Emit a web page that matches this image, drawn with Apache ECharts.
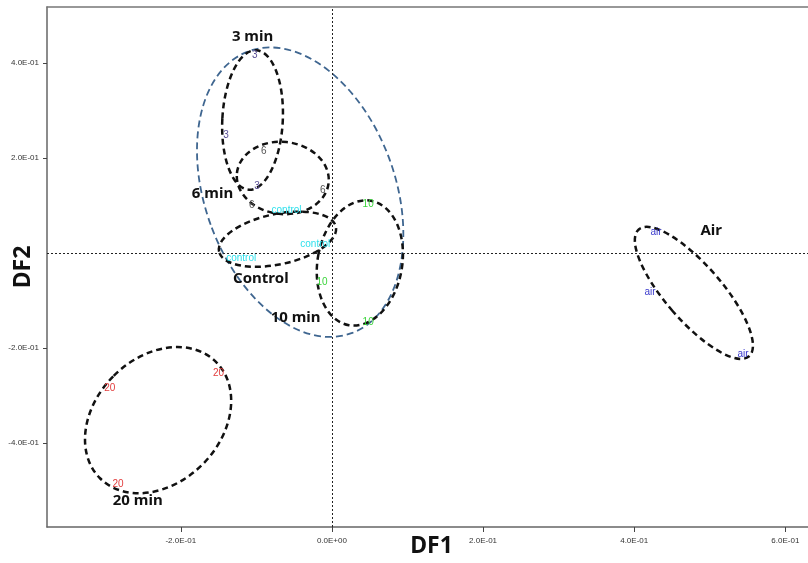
<!DOCTYPE html>
<html>
<head>
<meta charset="utf-8">
<script src="https://cdn.jsdelivr.net/npm/echarts@6/dist/echarts.min.js"></script>
<style>
  html, body { margin: 0; padding: 0; background: #fff; }
  #main { width: 808px; height: 563px; }
</style>
</head>
<body>
<div id="main"></div>
<script>
// discriminant scores, one array per group: [DF1, DF2]
var group3 = [[-0.102, 0.417], [-0.140, 0.248], [-0.099, 0.141]];
var group6 = [[-0.090, 0.215], [-0.012, 0.133], [-0.106, 0.101]];
var groupControl = [[-0.060, 0.089], [-0.022, 0.019], [-0.120, -0.012]];
var group10 = [[0.048, 0.103], [-0.013, -0.061], [0.048, -0.145]];
var groupAir = [[0.429, 0.044], [0.421, -0.082], [0.544, -0.213]];
var group20 = [[-0.294, -0.284], [-0.150, -0.253], [-0.283, -0.486]];

// group ellipses: [centre DF1, centre DF2, half width (DF1 units), half height (DF2 units), rotation deg]
var ellipses = [
  [-0.105, 0.280, 0.040, 0.147, -3],
  [-0.065, 0.158, 0.061, 0.076, -6],
  [-0.072, 0.029, 0.079, 0.053, 12],
  [0.037, -0.021, 0.056, 0.133, -10],
  [0.479, -0.084, 0.037, 0.177, 41],
  [-0.230, -0.352, 0.083, 0.173, -45]
];
var outerEllipse = [[-0.042, 0.128, 0.126, 0.316, 20]];

// group names and where they are written
var groupNames = ['3 min', '6 min', 'Control', '10 min', 'Air', '20 min'];
var namePos = [[-0.105, 0.455], [-0.158, 0.124], [-0.094, -0.055], [-0.048, -0.137], [0.502, 0.046], [-0.257, -0.522]];

var xTicks = [-0.2, 0, 0.2, 0.4, 0.6];
var yTicks = [-0.4, -0.2, 0.2, 0.4];

function sci(v) {
  var s = Number(v).toExponential(1).toUpperCase();
  var parts = s.split('E');
  var e = parseInt(parts[1], 10);
  var sign = e < 0 ? '-' : '+';
  var digits = String(Math.abs(e));
  if (digits.length < 2) digits = '0' + digits;
  return parts[0] + 'E' + sign + digits;
}

function pointSeries(name, data, text, color) {
  return {
    name: name,
    type: 'scatter',
    data: data,
    symbolSize: 0,
    silent: true,
    z: 4,
    itemStyle: { opacity: 1 },
    label: {
      show: true,
      position: 'inside',
      formatter: text,
      color: color,
      fontSize: 10,
      fontFamily: 'Liberation Sans'
    }
  };
}

function ellipseSeries(data, color, width, dash) {
  return {
    type: 'custom',
    data: data,
    silent: true,
    z: 3,
    renderItem: function (params, api) {
      var c = api.coord([api.value(0), api.value(1)]);
      var rx = api.size([api.value(2), 0])[0];
      var ry = api.size([0, api.value(3)])[1];
      return {
        type: 'ellipse',
        x: c[0],
        y: c[1],
        rotation: api.value(4) * Math.PI / 180,
        shape: { cx: 0, cy: 0, rx: rx, ry: ry },
        style: { fill: null, stroke: color, lineWidth: width, lineDash: dash }
      };
    }
  };
}

var myChart = echarts.init(document.getElementById('main'));

var tickFont = 'Liberation Sans';

var option = {
  animation: false,
  backgroundColor: '#fff',
  grid: { left: 47, right: 0, top: 7, bottom: 36, containLabel: false, outerBoundsMode: 'none' },
  xAxis: [{
    type: 'value',
    min: -0.377,
    max: 0.63,
    name: 'DF1',
    nameLocation: 'middle',
    nameGap: 8,
    nameMoveOverlap: false,
    nameTextStyle: { fontSize: 23, fontWeight: 'bold', color: '#111', fontFamily: 'Noto Sans', padding: [0, 0, 0, 8] },
    axisLine: { show: true, onZero: false, lineStyle: { color: '#666', width: 1.5 } },
    axisTick: { show: true, customValues: xTicks, length: 5, lineStyle: { color: '#444' } },
    axisLabel: {
      customValues: xTicks,
      formatter: sci,
      fontSize: 8,
      color: '#333',
      margin: 10,
      fontFamily: tickFont
    },
    splitLine: { show: false }
  }, {
    type: 'value',
    position: 'top',
    min: -0.377,
    max: 0.63,
    axisLine: { show: true, onZero: false, lineStyle: { color: '#777', width: 1.5 } },
    axisTick: { show: false },
    axisLabel: { show: false },
    splitLine: { show: false }
  }],
  yAxis: {
    type: 'value',
    min: -0.577,
    max: 0.518,
    name: 'DF2',
    nameLocation: 'middle',
    nameGap: 12,
    nameMoveOverlap: false,
    nameTextStyle: { fontSize: 23, fontWeight: 'bold', color: '#111', fontFamily: 'Noto Sans' },
    axisLine: { show: true, onZero: false, lineStyle: { color: '#666', width: 1.5 } },
    axisTick: { show: true, customValues: yTicks, length: 4, lineStyle: { color: '#444' } },
    axisLabel: {
      customValues: yTicks,
      formatter: sci,
      fontSize: 8,
      color: '#333',
      margin: 8,
      fontFamily: tickFont
    },
    splitLine: { show: false }
  },
  series: [
    {
      type: 'scatter',
      data: [],
      markLine: {
        silent: true,
        symbol: 'none',
        label: { show: false },
        lineStyle: { color: '#222', type: [2, 2], width: 1 },
        data: [{ xAxis: 0 }, { yAxis: 0 }]
      }
    },
    ellipseSeries(outerEllipse, '#3f6690', 1.8, [7, 4]),
    ellipseSeries(ellipses, '#111', 2.5, [6, 4]),
    pointSeries('3', group3, '3', '#5a4f96'),
    pointSeries('6', group6, '6', '#555555'),
    pointSeries('control', groupControl, 'control', '#2fe0ec'),
    pointSeries('10', group10, '10', '#3ad43a'),
    pointSeries('air', groupAir, 'air', '#3a3acc'),
    pointSeries('20', group20, '20', '#e23c3c'),
    {
      type: 'scatter',
      data: namePos.map(function (p, i) { return [p[0], p[1], groupNames[i]]; }),
      symbolSize: 0,
      silent: true,
      z: 5,
      itemStyle: { opacity: 1 },
      label: {
        show: true,
        position: 'inside',
        formatter: function (p) { return p.value[2]; },
        fontSize: 15,
        fontWeight: 'bold',
        color: '#111',
        fontFamily: 'Noto Sans'
      }
    }
  ]
};

myChart.setOption(option);
</script>
</body>
</html>
